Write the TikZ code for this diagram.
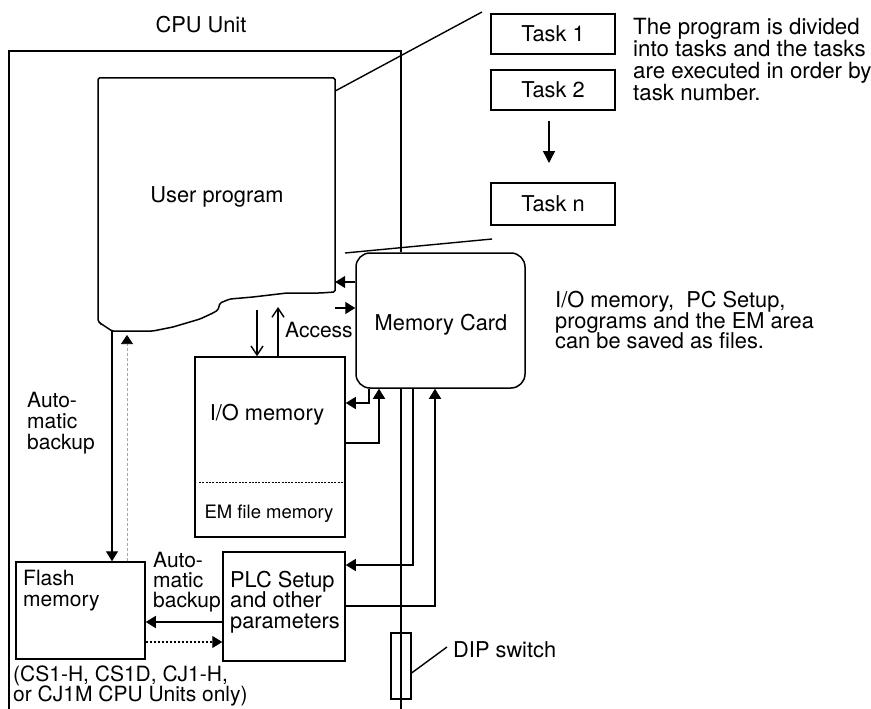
\documentclass[tikz,border=0pt]{standalone}
\usepackage{fontspec}
\setmainfont{TeX Gyre Heros}
\usetikzlibrary{arrows.meta}
\newcommand\dfont{\fontsize{21.8}{22}\selectfont}
\newcommand\bfontx{\fontsize{22.3}{22}\selectfont}
\newcommand\sfontx{\fontsize{21}{21}\selectfont}
\newcommand\efont{\fontsize{18.5}{19}\selectfont}
\begin{document}
\begin{tikzpicture}[x=1pt,y=-1pt,
  outl/.style={line width=1.5pt},
  thinl/.style={line width=1.4pt},
  boxn/.style={draw,line width=1.5pt,inner sep=0pt,rectangle,font=\dfont},
  lbl/.style={inner sep=0pt,anchor=base west,font=\dfont},
  clbl/.style={inner sep=0pt,anchor=base,font=\dfont},
  con/.style={line width=1.4pt,-{Triangle[length=10pt,width=12pt]}},
  bcon/.style={line width=1.4pt,-{Straight Barb[length=9pt,width=12pt,line width=1.4pt]}},
  ]
\useasboundingbox (0,0) rectangle (871,709);

% boxes
\node[boxn,minimum width=124pt,minimum height=40pt] (task1) at (553,34) {Task 1};
\node[boxn,minimum width=124pt,minimum height=40pt] (task2) at (553,90) {Task 2};
\node[boxn,minimum width=124pt,minimum height=42pt] (taskn) at (553,204) {Task n};
\node[boxn,minimum width=169pt,minimum height=135pt,rounded corners=14pt] (mc) at (440.5,320.5) {};
\node[boxn,minimum width=150pt,minimum height=180pt] (io) at (270,447) {};
\node[boxn,minimum width=129pt,minimum height=97pt] (flash) at (80.5,610.5) {};
\node[boxn,minimum width=122pt,minimum height=109pt] (plc) at (284,606.5) {};
\node[inner sep=0pt,minimum width=237pt,minimum height=214pt] (up) at (216.5,185) {};

% CPU unit outline
\draw[outl] (9,709) -- (9,51) -- (401,51) -- (mc.north -| 401,0);

% user program outline
\draw[outl,rounded corners=1.5pt] (98,321) -- (98,78) -- (335,78) -- (335,292) -- (320,293) -- (287,293)
  -- (253,297) -- (230,299) -- (220,303) -- (218,310) -- (213,313) -- (200,319) -- (173,327)
  -- (153,331) -- (112,331) -- (100,323) -- cycle;

% leader lines
\coordinate (l1) at (482,12);
\coordinate (l2a) at (345,253);
\coordinate (l2b) at (492,239);
\draw[thinl] (up.east |- 0,91) -- (l1);
\draw[thinl] (l2a) -- (l2b);

% task arrow
\coordinate (ta) at (549,121);
\coordinate (tb) at (549,163);
\draw[line width=1.4pt,-{Triangle[length=12pt,width=12pt]}] (ta) -- (tb);

% memory card <-> user program
\draw[con] (mc.west |- 0,282) -- (up.east |- 0,282);
\draw[con] (up.east |- 0,308) -- (mc.west |- 0,308);

% access
\coordinate (acc1) at (257,310);
\coordinate (acc2) at (278,307);
\draw[bcon] (acc1) -- (io.north -| acc1);
\draw[bcon] (io.north -| acc2) -- (acc2);

% memory card <-> I/O memory
\draw[con] (mc.south -| 369,0) -- (369,403) -- (io.east |- 0,403);
\draw[con] (io.east |- 0,443) -- (379,443) -- (mc.south -| 379,0);

% dashed separator in I/O box
\draw[line width=1pt,dash pattern=on 2pt off 1.3pt] (199,482) -- (343,482);

% DIP switch line
\node[boxn,line width=1.2pt,minimum width=20pt,minimum height=66pt] (dip) at (401,666) {};
\coordinate (bot) at (401,709);
\draw[thinl] (mc.south -| bot) -- (bot);

% memory card <-> PLC setup
\draw[con] (mc.south -| 413,0) -- (413,565) -- (plc.east |- 0,565);
\draw[con] (plc.east |- 0,606) -- (435,606) -- (mc.south -| 435,0);

% user program <-> flash
\coordinate (upb) at (112,331);
\coordinate (upc) at (127,335);
\draw[con] (upb) -- (flash.north -| upb);
\draw[gray!70,line width=0.7pt,dash pattern=on 3pt off 2pt,-{Triangle[length=9pt,width=12pt,color=black]}] (flash.north -| upc) -- (upc);

% PLC <-> flash
\draw[con] (plc.west |- 0,622) -- (flash.east |- 0,622);
\draw[line width=1.1pt,dash pattern=on 2.5pt off 1.5pt,-{Triangle[length=10pt,width=12pt]}] (flash.east |- 0,642) -- (plc.west |- 0,642);

% DIP leader
\coordinate (dipl) at (447,647);
\draw[thinl] (dip.east |- 0,673) -- (dipl);

% texts
\node[clbl] (tcpu) at (201,33) {CPU Unit};
\node[clbl] (tup) at (217,202) {User program};
\node[lbl,font=\bfontx] (td1) at (633,35) {The program is divided};
\node[lbl,font=\bfontx] (td2) at (633,57) {into tasks and the tasks};
\node[lbl,font=\bfontx] (td3) at (633,79) {are executed in order by};
\node[lbl,font=\bfontx] (td4) at (633,101) {task number.};
\node[lbl,font=\sfontx] (tacc) at (285,337) {Access};
\node[clbl] (tmc) at (441,330) {Memory Card};
\node[lbl] (tm1) at (555,307.5) {I/O memory,~ PC Setup,};
\node[lbl] (tm2) at (555,328) {programs and the EM area};
\node[lbl] (tm3) at (555,348.5) {can be saved as files.};
\node[clbl] (tio) at (267,420) {I/O memory};
\node[clbl,font=\efont] (tem) at (269,518) {EM file memory};
\node[lbl,font=\sfontx] (ta1) at (27,407) {Auto-};
\node[lbl,font=\sfontx] (ta2) at (27,428) {matic};
\node[lbl,font=\sfontx] (ta3) at (27,449) {backup};
\node[lbl,font=\sfontx] (tf1) at (23,585) {Flash};
\node[lbl,font=\sfontx] (tf2) at (23,606) {memory};
\node[lbl,font=\sfontx] (tb1) at (153,567) {Auto-};
\node[lbl,font=\sfontx] (tb2) at (153,587) {matic};
\node[lbl,font=\sfontx] (tb3) at (153,607) {backup};
\node[lbl] (tp1) at (230,587) {PLC Setup};
\node[lbl] (tp2) at (230,607) {and other};
\node[lbl] (tp3) at (230,628) {parameters};
\node[lbl,font=\sfontx] (tc1) at (13,681) {(CS1-H, CS1D, CJ1-H,};
\node[lbl,font=\sfontx] (tc2) at (13,701) {or CJ1M CPU Units only)};
\node[lbl] (tdip) at (453,657) {DIP switch};
\end{tikzpicture}
\end{document}
